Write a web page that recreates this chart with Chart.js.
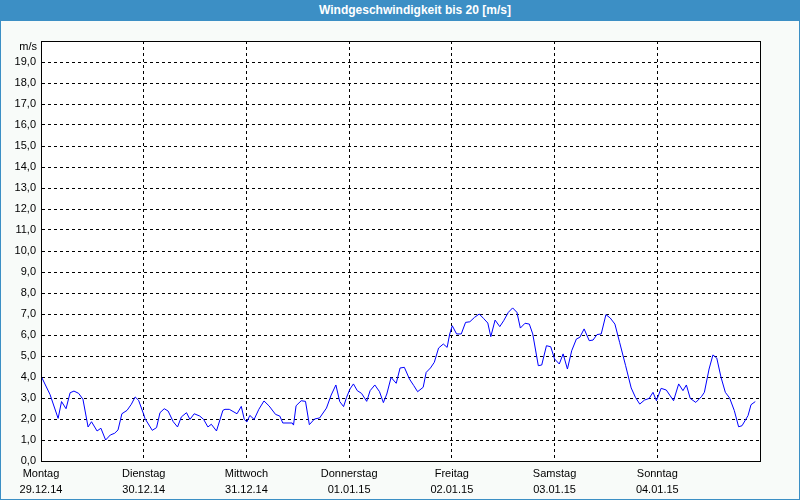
<!DOCTYPE html>
<html>
<head>
<meta charset="utf-8">
<script src="https://cdn.jsdelivr.net/npm/chart.js@4.4.1/dist/chart.umd.min.js"></script>
<style>
  html, body { margin: 0; padding: 0; background: #f8fbf9; }
  #wrap { position: relative; width: 800px; height: 500px; overflow: hidden; }
  #title { position: absolute; left: 0; top: 0; width: 800px; height: 21px; background: #3c8fc5;
           color: #fff; font: bold 12px "Liberation Sans", Arial, sans-serif; line-height: 21px;
           text-align: center; box-sizing: border-box; padding-left: 30px; }
  #frame { position: absolute; left: 0; top: 0; width: 800px; height: 500px; box-sizing: border-box;
           border: 1px solid #3c8fc5; border-top: none; pointer-events: none; }
  canvas { position: absolute; left: 0; top: 0; }
</style>
</head>
<body>
<div id="wrap">
  <canvas id="c" width="800" height="500"></canvas>
  <div id="title">Windgeschwindigkeit bis 20 [m/s]</div>
  <div id="frame"></div>
</div>
<script>
const titleText = "Windgeschwindigkeit bis 20 [m/s]";
const unitLabel = "m/s";
const dayNames = ["Montag", "Dienstag", "Mittwoch", "Donnerstag", "Freitag", "Samstag", "Sonntag"];
const dayDates = ["29.12.14", "30.12.14", "31.12.14", "01.01.15", "02.01.15", "03.01.15", "04.01.15"];
// hours since Montag 00:00
const hours = [0,2.1,4.0,4.8,5.85,6.8,7.7,8.8,9.8,11.0,
  11.8,13.1,14.0,15.1,16.2,17.2,18.0,18.9,20.1,21.1,
  22.0,22.8,24.0,24.3,26.0,27.0,27.8,28.8,29.7,30.9,
  31.9,32.8,34.0,34.8,35.8,37.1,38.0,39.0,39.8,41.0,
  42.5,43.0,44.0,45.8,46.8,47.5,48.1,48.8,49.8,50.9,
  52.1,53.3,54.8,55.8,56.5,58.7,59.0,59.6,60.8,61.8,
  62.7,63.9,65.1,66.7,67.8,68.9,69.8,70.7,71.4,72.2,
  73.0,73.9,74.9,76.1,76.9,78.0,79.1,80.0,80.8,81.8,
  83.0,83.9,84.9,86.1,87.1,88.0,89.3,90.0,91.0,91.9,
  92.9,94.0,94.9,95.5,96.1,97.1,98.2,99.2,100.2,101.3,
  102.4,103.4,104.4,105.1,106.1,107.2,108.1,109.2,110.2,111.2,
  112.0,113.1,114.1,114.9,116.2,117.0,118.1,119.1,120.0,121.1,
  122.0,123.0,124.0,125.1,125.9,126.9,128.1,129.0,129.9,130.9,
  132.0,133.0,134.1,135.2,136.6,137.9,138.9,139.9,141.0,142.1,
  143.0,143.8,144.9,146.1,147.8,149.0,150.0,150.8,151.7,153.0,
  154.3,155.0,156.1,157.0,157.9,158.9,159.9,160.9,162.0,163.0,
  163.8,165.2,165.9,166.9];
// wind speed m/s
const speeds = [4.05,3.17,2.03,2.83,2.49,3.25,3.33,3.22,2.94,1.62,
  1.87,1.43,1.56,1.0,1.24,1.32,1.48,2.25,2.41,2.70,
  3.05,2.89,2.22,2.02,1.46,1.59,2.30,2.49,2.38,1.87,
  1.62,2.10,2.30,1.98,2.25,2.14,1.98,1.62,1.75,1.43,
  2.41,2.46,2.46,2.25,2.60,1.98,1.86,2.17,1.98,2.46,
  2.86,2.62,2.22,2.14,1.81,1.81,1.71,2.63,2.87,2.84,
  1.73,2.0,2.05,2.52,3.14,3.62,2.83,2.59,3.03,3.43,
  3.67,3.35,3.22,2.84,3.35,3.62,3.30,2.78,3.19,3.98,
  3.70,4.43,4.46,3.90,3.59,3.30,3.51,4.22,4.43,4.70,
  5.38,5.57,5.41,6.05,6.44,6.05,6.05,6.60,6.63,6.84,
  7.0,6.79,6.57,5.92,6.71,6.40,6.68,7.08,7.29,7.08,
  6.33,6.56,6.52,6.05,4.54,4.57,5.49,5.44,4.86,4.62,
  5.10,4.38,5.25,5.81,5.89,6.29,5.73,5.76,6.02,6.05,
  6.97,6.81,6.52,5.65,4.54,3.48,3.03,2.71,2.90,2.98,
  3.27,2.87,3.46,3.38,2.87,3.67,3.35,3.62,2.98,2.79,
  3.06,3.27,4.38,5.05,4.90,3.98,3.27,3.0,2.40,1.63,
  1.68,2.16,2.68,2.83];
const yMax = 20;
const hoursPerDay = 24;

const points = hours.map((h, i) => ({ x: h, y: speeds[i] }));
const tickFont = { family: "'Liberation Sans', Arial, sans-serif", size: 11 };
const xTickFont = { family: "'Liberation Sans', Arial, sans-serif", size: 11, lineHeight: 1.45 };

const framePlugin = {
  id: 'frame',
  afterDraw(chart) {
    const { ctx, chartArea: a, scales } = chart;
    ctx.save();
    ctx.strokeStyle = '#000';
    ctx.lineWidth = 1;
    ctx.setLineDash([]);
    const l = Math.round(a.left) + 0.5, t = Math.round(a.top) + 0.5;
    const r = Math.round(a.right) + 0.5, b = Math.round(a.bottom) + 0.5;
    ctx.strokeRect(l, t, r - l, b - t);
    ctx.fillStyle = '#000';
    ctx.font = "11px 'Liberation Sans', Arial, sans-serif";
    ctx.textAlign = 'right';
    ctx.textBaseline = 'middle';
    ctx.fillText(unitLabel, a.left - 4, scales.y.getPixelForValue(yMax) + 6);
    ctx.restore();
  }
};

const bgPlugin = {
  id: 'bg',
  beforeDraw(chart) {
    const { ctx, chartArea: a } = chart;
    ctx.save();
    ctx.fillStyle = '#ffffff';
    ctx.fillRect(a.left, a.top, a.right - a.left, a.bottom - a.top);
    ctx.restore();
  }
};

new Chart(document.getElementById('c'), {
  type: 'line',
  data: {
    datasets: [{
      data: points,
      borderColor: '#0000ff',
      borderWidth: 1,
      pointRadius: 0,
      tension: 0,
      fill: false
    }]
  },
  options: {
    responsive: false,
    animation: false,
    events: [],
    layout: { padding: { left: 0, right: 40, top: 41, bottom: 0 } },
    plugins: { legend: { display: false }, tooltip: { enabled: false }, title: { display: false } },
    scales: {
      x: {
        type: 'linear',
        min: 0,
        max: hoursPerDay * dayNames.length,
        afterFit(s) { s.height = 39; },
        ticks: {
          stepSize: hoursPerDay,
          autoSkip: false,
          maxRotation: 0,
          padding: 5,
          color: '#000',
          font: xTickFont,
          callback(v) {
            const i = Math.round(v / hoursPerDay);
            return i < dayNames.length ? [dayNames[i], dayDates[i]] : '';
          }
        },
        grid: { color: '#000', lineWidth: 1, drawTicks: false },
        border: { display: true, color: '#000', width: 1, dash: [3, 3] }
      },
      y: {
        min: 0,
        max: yMax,
        afterFit(s) { s.width = 41; },
        ticks: {
          stepSize: 1,
          padding: 5,
          color: '#000',
          font: tickFont,
          callback(v) { return v === yMax ? '' : v.toFixed(1).replace('.', ','); }
        },
        grid: { color: '#000', lineWidth: 1, drawTicks: false },
        border: { display: true, color: '#000', width: 1, dash: [3, 3] }
      }
    }
  },
  plugins: [bgPlugin, framePlugin]
});
</script>
</body>
</html>
